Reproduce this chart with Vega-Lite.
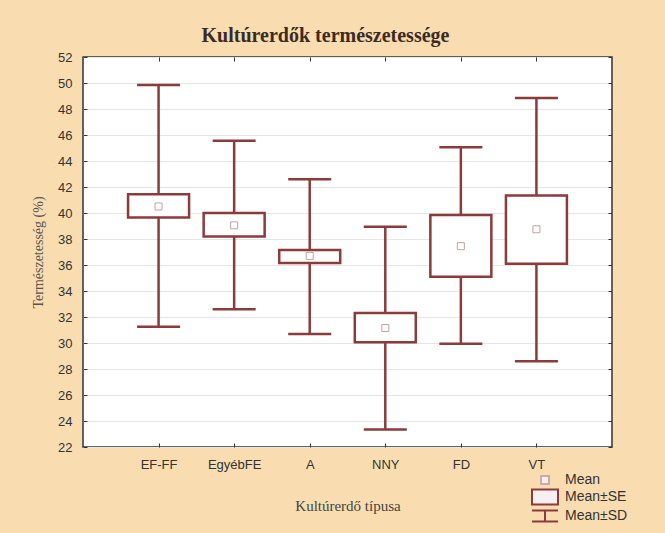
{
  "$schema": "https://vega.github.io/schema/vega-lite/v6.json",
  "autosize": "none",
  "width": 529,
  "height": 390,
  "padding": {"left": 83, "top": 57, "right": 53, "bottom": 86},
  "background": "#f9ddb0",
  "view": {"fill": "#ffffff", "stroke": "#333333", "strokeWidth": 1.5},
  "title": {
    "text": "Kultúrerdők természetessége",
    "font": "Liberation Serif",
    "fontSize": 20,
    "fontWeight": "bold",
    "color": "#3b2b26",
    "anchor": "middle",
    "dx": -22,
    "dy": 23,
    "offset": 12,
    "baseline": "alphabetic"
  },
  "config": {
    "view": {"fill": "#ffffff", "stroke": "#333333", "strokeWidth": 1.5},
    "axis": {
      "domain": false,
      "tickColor": "#333333",
      "tickSize": -4,
      "tickWidth": 1,
      "labelFont": "Liberation Sans",
      "labelFontSize": 13,
      "labelColor": "#333333",
      "labelPadding": 15
    }
  },
  "datasets": {
    "stats": [
      {"cat": "EF-FF", "mean": 40.5, "se_lo": 39.65, "se_hi": 41.45, "sd_lo": 31.25, "sd_hi": 49.85},
      {"cat": "EgyébFE", "mean": 39.05, "se_lo": 38.2, "se_hi": 40.0, "sd_lo": 32.6, "sd_hi": 45.55},
      {"cat": "A", "mean": 36.7, "se_lo": 36.15, "se_hi": 37.15, "sd_lo": 30.7, "sd_hi": 42.6},
      {"cat": "NNY", "mean": 31.15, "se_lo": 30.05, "se_hi": 32.3, "sd_lo": 23.35, "sd_hi": 38.95},
      {"cat": "FD", "mean": 37.45, "se_lo": 35.1, "se_hi": 39.85, "sd_lo": 29.95, "sd_hi": 45.05},
      {"cat": "VT", "mean": 38.75, "se_lo": 36.1, "se_hi": 41.35, "sd_lo": 28.6, "sd_hi": 48.85}
    ],
    "legend": [
      {"item": "Mean"},
      {"item": "Mean±SE"},
      {"item": "Mean±SD"}
    ]
  },
  "layer": [
    {
      "data": {"name": "stats"},
      "mark": {"type": "rule", "color": "#8c3a3a", "strokeWidth": 2.5},
      "encoding": {
        "x": {
          "field": "cat", "type": "nominal", "sort": null,
          "scale": {"type": "point", "padding": 1},
          "axis": {
            "orient": "bottom",
            "labelAngle": 0,
            "title": "Kultúrerdő típusa",
            "titleFont": "Liberation Serif",
            "titleFontSize": 15,
            "titleFontWeight": "normal",
            "titleColor": "#444444",
            "titleY": 58,
            "titleBaseline": "middle"
          }
        },
        "y": {
          "field": "sd_lo", "type": "quantitative",
          "scale": {"domain": [22, 52], "nice": false, "zero": false},
          "axis": {
            "orient": "left",
            "values": [22, 24, 26, 28, 30, 32, 34, 36, 38, 40, 42, 44, 46, 48, 50, 52],
            "grid": true,
            "gridColor": "#e6e6e6",
            "gridWidth": 1,
            "title": "Természetesség (%)",
            "titleFont": "Liberation Serif",
            "titleFontSize": 14,
            "titleFontWeight": "normal",
            "titleColor": "#555555",
            "titleX": -45,
            "titleY": 195,
            "titleAngle": -90,
            "titleAlign": "center",
            "titleBaseline": "middle"
          }
        },
        "y2": {"field": "sd_hi"}
      }
    },
    {
      "data": {"name": "stats"},
      "mark": {"type": "bar", "width": 61, "fill": "white", "stroke": "#8c3a3a", "strokeWidth": 2.5},
      "encoding": {
        "x": {
          "field": "cat", "type": "nominal", "sort": null,
          "axis": {"orient": "top", "labels": false, "title": null, "grid": false}
        },
        "y": {
          "field": "se_lo", "type": "quantitative",
          "axis": {
            "orient": "right", "labels": false, "title": null, "grid": false,
            "values": [22, 24, 26, 28, 30, 32, 34, 36, 38, 40, 42, 44, 46, 48, 50, 52]
          }
        },
        "y2": {"field": "se_hi"}
      }
    },
    {
      "data": {"name": "stats"},
      "mark": {"type": "tick", "size": 43, "thickness": 2.5, "color": "#8c3a3a", "opacity": 1},
      "encoding": {
        "x": {"field": "cat", "type": "nominal", "sort": null, "axis": null},
        "y": {"field": "sd_hi", "type": "quantitative", "axis": null}
      }
    },
    {
      "data": {"name": "stats"},
      "mark": {"type": "tick", "size": 43, "thickness": 2.5, "color": "#8c3a3a", "opacity": 1},
      "encoding": {
        "x": {"field": "cat", "type": "nominal", "sort": null, "axis": null},
        "y": {"field": "sd_lo", "type": "quantitative", "axis": null}
      }
    },
    {
      "data": {"name": "stats"},
      "mark": {"type": "point", "shape": "square", "size": 49, "filled": true, "fill": "white", "stroke": "#c4a0a0", "strokeWidth": 1, "opacity": 1},
      "encoding": {
        "x": {"field": "cat", "type": "nominal", "sort": null, "axis": null},
        "y": {"field": "mean", "type": "quantitative", "axis": null}
      }
    },
    {
      "data": {"name": "legend"},
      "mark": {"type": "point", "filled": true, "fill": "#f8f0f0", "strokeWidth": 2, "opacity": 0},
      "encoding": {
        "shape": {
          "field": "item", "type": "nominal",
          "scale": {
            "domain": ["Mean", "Mean±SE", "Mean±SD"],
            "range": ["M-0.8,-0.8H0.8V0.8H-0.8Z", "M-2.6,-1.5H2.6V1.5H-2.6Z", "M-2.6,-1.1H2.6M0,-1.1V1.1M-2.6,1.1H2.6"]
          },
          "legend": {
            "title": null, "orient": "none", "legendX": 455, "legendY": 416,
            "symbolSize": 100, "symbolOpacity": 1, "symbolFillColor": "#f8f0f0", "symbolStrokeWidth": 2,
            "labelOffset": 13, "rowPadding": -3, "padding": 0,
            "labelFont": "Liberation Sans", "labelFontSize": 14, "labelColor": "#333333"
          }
        },
        "stroke": {
          "field": "item", "type": "nominal",
          "scale": {"domain": ["Mean", "Mean±SE", "Mean±SD"], "range": ["#cfa9a9", "#8c3a3a", "#8c3a3a"]},
          "legend": {
            "title": null, "orient": "none", "legendX": 455, "legendY": 416,
            "symbolSize": 100, "symbolOpacity": 1, "symbolFillColor": "#f8f0f0", "symbolStrokeWidth": 2,
            "labelOffset": 13, "rowPadding": -3, "padding": 0,
            "labelFont": "Liberation Sans", "labelFontSize": 14, "labelColor": "#333333"
          }
        }
      }
    }
  ],
  "resolve": {"axis": {"x": "independent", "y": "independent"}}
}
